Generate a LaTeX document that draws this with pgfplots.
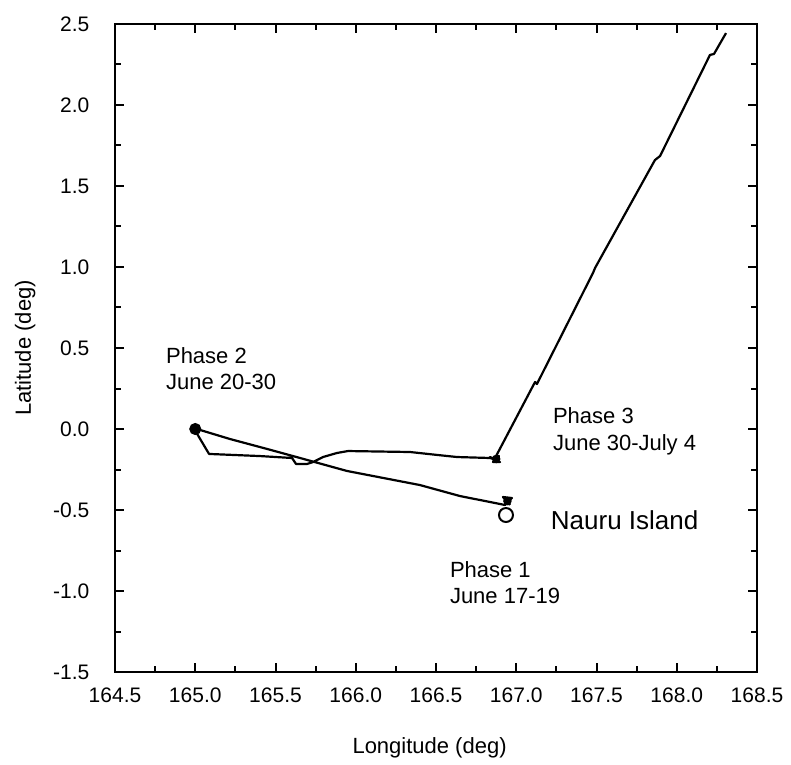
\documentclass[border=0pt]{standalone}
\usepackage{fontspec}
\setmainfont{Liberation Sans}
\usepackage{pgfplots}
\pgfplotsset{compat=1.18}
\begin{document}
\begin{tikzpicture}
\begin{axis}[
  scale only axis, width=321pt, height=324pt,
  xmin=164.5, xmax=168.5, ymin=-1.5, ymax=2.5,
  xtick={164.5,165.0,165.5,166.0,166.5,167.0,167.5,168.0,168.5},
  ytick={-1.5,-1.0,-0.5,0.0,0.5,1.0,1.5,2.0,2.5},
  minor tick num=1,
  tick align=inside,
  major tick length=4.7pt, minor tick length=3pt,
  every tick/.append style={line width=1pt, black},
  axis line style={line width=1pt},
  every axis/.append style={line width=1pt},
  /pgf/number format/fixed, /pgf/number format/fixed zerofill,
  /pgf/number format/precision=1, /pgf/number format/assume math mode=true,
  /pgf/number format/1000 sep={},
  xticklabel style={yshift=-4pt, font=\fontsize{10.5}{12}\selectfont},
  yticklabel style={xshift=-9pt, font=\fontsize{10.5}{12}\selectfont},
  xlabel={Longitude (deg)}, ylabel={Latitude (deg)},
  label style={font=\fontsize{11}{13}\selectfont},
  xlabel style={at={(axis description cs:0.49,-0.117)}, anchor=center},
  ylabel style={at={(axis description cs:-0.14,0.5)}, anchor=center},
]
\coordinate (bl) at (rel axis cs:0,0);
\coordinate (tr) at (rel axis cs:1,1);
% ship track
\addplot[black, line width=1.1pt, line join=round] coordinates {
 (166.961,-0.469) (166.917,-0.420) (166.973,-0.426) (166.930,-0.469)
 (166.650,-0.414) (166.400,-0.346) (165.945,-0.259) (165.653,-0.179)
 (165.447,-0.123) (165.217,-0.062) (165.030,-0.006) (165.005,-0.006)
 (164.990,0.012) (165.020,0.010) (165.000,-0.020) (165.005,-0.019)
 (165.086,-0.154) (165.403,-0.167) (165.603,-0.179) (165.628,-0.216)
 (165.696,-0.216) (165.734,-0.204) (165.796,-0.173) (165.883,-0.148)
 (165.952,-0.136) (166.338,-0.142) (166.506,-0.160) (166.631,-0.173)
 (166.836,-0.179) (166.880,-0.191) (166.836,-0.173) (166.899,-0.204)
 (166.855,-0.204) (166.893,-0.167) (166.868,-0.179)
 (167.117,0.290) (167.129,0.278) (167.154,0.327)
 (167.478,0.963) (167.491,0.994)
 (167.864,1.660) (167.896,1.685)
 (168.207,2.309) (168.232,2.315) (168.307,2.444)
};
% Phase 2 cluster
\addplot[only marks, mark=*, mark size=2.5pt, black] coordinates {(165.0,0.0)};
% small clusters at Phase 3 start and Phase 1 start
\addplot[only marks, mark=*, mark size=1.6pt, black] coordinates {(166.875,-0.185) (166.945,-0.445)};
% Nauru Island
\addplot[only marks, mark=o, mark size=3.5pt, black, mark options={line width=1pt}] coordinates {(166.936,-0.531)};
\node[anchor=base west, inner sep=0, font=\fontsize{11}{13}\selectfont] at (axis cs:164.812,0.407) {Phase 2};
\node[anchor=base west, inner sep=0, font=\fontsize{11}{13}\selectfont] at (axis cs:164.812,0.241) {June 20-30};
\node[anchor=base west, inner sep=0, font=\fontsize{11}{13}\selectfont] at (axis cs:167.223,0.037) {Phase 3};
\node[anchor=base west, inner sep=0, font=\fontsize{11}{13}\selectfont] at (axis cs:167.223,-0.130) {June 30-July 4};
\node[anchor=base west, inner sep=0, font=\fontsize{11}{13}\selectfont] at (axis cs:166.581,-0.914) {Phase 1};
\node[anchor=base west, inner sep=0, font=\fontsize{11}{13}\selectfont] at (axis cs:166.581,-1.080) {June 17-19};
\node[anchor=base west, inner sep=0, font=\fontsize{13}{15}\selectfont] at (axis cs:167.210,-0.623) {Nauru Island};
\end{axis}
\path ([shift={(-57.5pt,-44pt)}]bl) rectangle ([shift={(17pt,12pt)}]tr);
\end{tikzpicture}
\end{document}
